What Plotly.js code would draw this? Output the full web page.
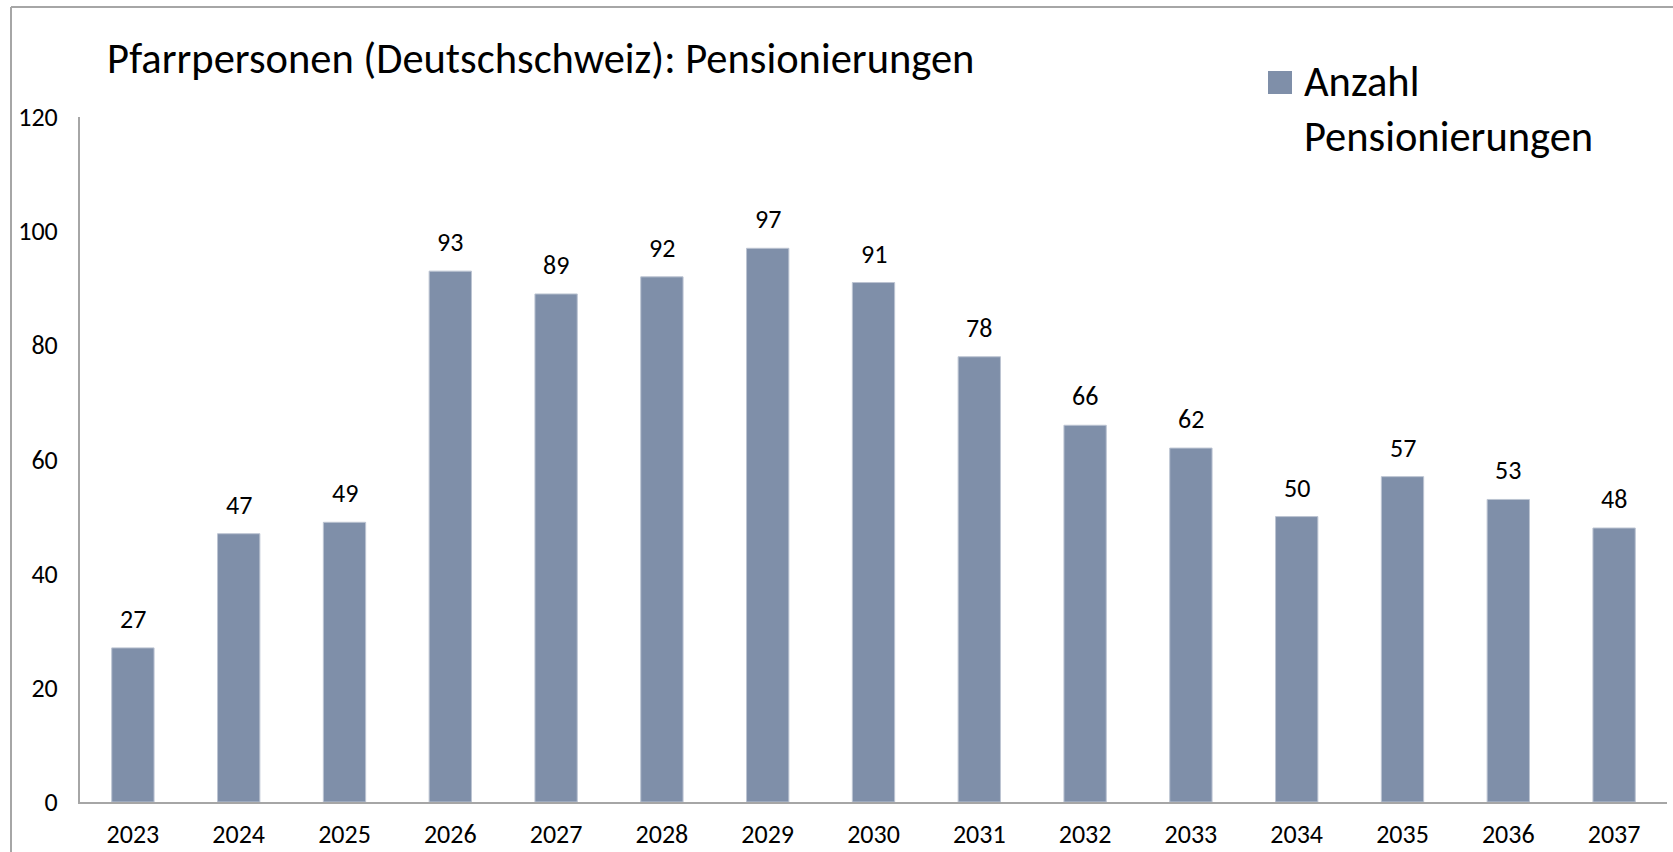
<!DOCTYPE html>
<html>
<head>
<meta charset="utf-8">
<script src="https://cdn.plot.ly/plotly-3.0.1.min.js"></script>
<style>
html,body{margin:0;padding:0;background:#fff;}
#chart{width:1673px;height:852px;}
</style>
</head>
<body>
<div id="chart"></div>
<script>
const years = ['2023','2024','2025','2026','2027','2028','2029','2030','2031','2032','2033','2034','2035','2036','2037'];
const pensionierungen = [27,47,49,93,89,92,97,91,78,66,62,50,57,53,48];
const seriesName = 'Anzahl<br>Pensionierungen';
const chartTitle = 'Pfarrpersonen (Deutschschweiz): Pensionierungen';
const yTicks = [0,20,40,60,80,100,120];

const FONT = 'Carlito, "Open Sans", sans-serif';
const BAR_COLOR = '#7F8FA9';

const trace = {
  type: 'bar',
  x: years,
  y: pensionierungen,
  name: seriesName,
  marker: {color: BAR_COLOR, line: {color: '#BCC4D2', width: 1}},
  hoverinfo: 'x+y',
  showlegend: false
};

const annotations = years.map((yr, i) => ({
  x: i, y: pensionierungen[i], xref: 'x', yref: 'y',
  text: String(pensionierungen[i]), showarrow: false,
  yanchor: 'bottom', yshift: 11,
  font: {family: FONT, size: 26, color: '#000'}
}));

// legend (drawn as shape + text for a larger key)
const LX = (1268-80)/1587, LX1 = (1292-80)/1587;
const LY0 = (802-94)/685, LY1 = (802-71)/685;
annotations.push({
  x: (1302-80)/1587, y: (802-54)/685, xref: 'paper', yref: 'paper',
  xanchor: 'left', yanchor: 'top', align: 'left', showarrow: false,
  text: seriesName,
  font: {family: FONT, size: 42.5, color: '#000'}
});

const layout = {
  width: 1673, height: 852,
  margin: {l: 80, r: 6, t: 117, b: 50, pad: 0},
  paper_bgcolor: '#fff', plot_bgcolor: '#fff',
  font: {family: FONT, color: '#000'},
  showlegend: false,
  title: {
    text: chartTitle,
    font: {family: FONT, size: 42.5, color: '#000'},
    xref: 'container', yref: 'container',
    x: 107/1673, xanchor: 'left',
    y: 1 - 58/852, yanchor: 'middle'
  },
  bargap: 0.6,
  xaxis: {
    type: 'category',
    range: [-0.5, years.length - 0.5],
    showline: true, linecolor: '#A6A6A6', linewidth: 2,
    showgrid: false, zeroline: false, ticks: '',
    tickfont: {family: FONT, size: 26, color: '#000'},
    ticklabelstandoff: 8
  },
  yaxis: {
    range: [0, 120], tickvals: yTicks, ticktext: yTicks.map(String),
    showline: true, linecolor: '#A6A6A6', linewidth: 2,
    showgrid: false, zeroline: false, ticks: '',
    tickfont: {family: FONT, size: 26, color: '#000'},
    ticklabelstandoff: 15
  },
  annotations: annotations,
  shapes: [
    {type: 'line', xref: 'paper', yref: 'paper', x0: (11-80)/1587, x1: (11-80)/1587, y0: -0.2, y1: (802-7)/685, line: {color: '#A6A6A6', width: 2}},
    {type: 'line', xref: 'paper', yref: 'paper', x0: (11-80)/1587, x1: 1.1, y0: (802-7)/685, y1: (802-7)/685, line: {color: '#A6A6A6', width: 2}},
    {type: 'rect', xref: 'paper', yref: 'paper', x0: LX, x1: LX1, y0: LY0, y1: LY1, fillcolor: BAR_COLOR, line: {width: 0}}
  ]
};

Plotly.newPlot('chart', [trace], layout, {displayModeBar: false, staticPlot: true});
</script>
</body>
</html>
